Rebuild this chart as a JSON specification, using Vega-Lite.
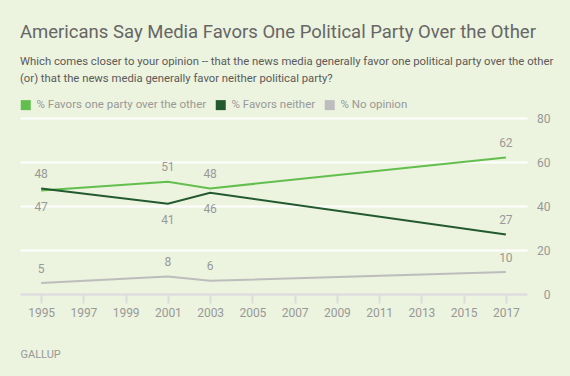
{
  "$schema": "https://vega.github.io/schema/vega-lite/v6.json",
  "width": 507,
  "height": 176,
  "autosize": {"type": "none"},
  "padding": {"left": 20, "top": 118, "right": 43, "bottom": 82},
  "background": "#ECF3DE",
  "config": {
    "view": {"stroke": null},
    "font": "Roboto"
  },
  "title": {
    "text": "Americans Say Media Favors One Political Party Over the Other",
    "subtitle": ["Which comes closer to your opinion -- that the news media generally favor one political party over the other", "(or) that the news media generally favor neither political party?"],
    "anchor": "start",
    "frame": "group",
    "limit": 1000,
    "font": "Roboto",
    "fontSize": 18.5,
    "fontWeight": "normal",
    "color": "#666666",
    "subtitleFont": "Roboto",
    "subtitleFontSize": 11.3,
    "subtitleColor": "#5a5a5a",
    "subtitleLineHeight": 17,
    "subtitlePadding": 14,
    "offset": 15
  },
  "data": {
    "values": [
      {"series": "% Favors one party over the other", "year": 1995, "value": 47},
      {"series": "% Favors one party over the other", "year": 2001, "value": 51},
      {"series": "% Favors one party over the other", "year": 2003, "value": 48},
      {"series": "% Favors one party over the other", "year": 2017, "value": 62},
      {"series": "% Favors neither", "year": 1995, "value": 48},
      {"series": "% Favors neither", "year": 2001, "value": 41},
      {"series": "% Favors neither", "year": 2003, "value": 46},
      {"series": "% Favors neither", "year": 2017, "value": 27},
      {"series": "% No opinion", "year": 1995, "value": 5},
      {"series": "% No opinion", "year": 2001, "value": 8},
      {"series": "% No opinion", "year": 2003, "value": 6},
      {"series": "% No opinion", "year": 2017, "value": 10}
    ]
  },
  "encoding": {
    "x": {
      "field": "year",
      "type": "quantitative",
      "scale": {"domain": [1994, 2018], "nice": false, "zero": false},
      "axis": {
        "values": [1995, 1997, 1999, 2001, 2003, 2005, 2007, 2009, 2011, 2013, 2015, 2017],
        "format": "d",
        "grid": false,
        "domainColor": "#dcdcdc",
        "domainWidth": 2.5,
        "tickColor": "#dcdcdc",
        "tickWidth": 2,
        "tickSize": 9,
        "labelPadding": 4,
        "labelColor": "#999999",
        "labelFontSize": 12,
        "labelFont": "Roboto",
        "title": "GALLUP",
        "titleAnchor": "start",
        "titleAlign": "left",
        "titleFont": "Roboto",
        "titleFontSize": 11,
        "titleFontWeight": "normal",
        "titleColor": "#999999",
        "titlePadding": 30,
        "zindex": 1
      }
    },
    "y": {
      "field": "value",
      "type": "quantitative",
      "scale": {"domain": [0, 80], "nice": false},
      "axis": {
        "orient": "right",
        "values": [0, 20, 40, 60, 80],
        "grid": true,
        "gridColor": "#ffffff",
        "gridWidth": 2,
        "domain": false,
        "ticks": false,
        "labelAlign": "right",
        "labelPadding": 23,
        "labelColor": "#999999",
        "labelFontSize": 12,
        "labelFont": "Roboto",
        "title": null,
        "zindex": 0
      }
    }
  },
  "layer": [
    {
      "mark": {"type": "line", "strokeWidth": 2},
      "encoding": {
        "color": {
          "field": "series",
          "type": "nominal",
          "scale": {
            "domain": ["% Favors one party over the other", "% Favors neither", "% No opinion"],
            "range": ["#62BF4E", "#23592F", "#BDBDBD"]
          },
          "legend": {
            "orient": "none",
            "legendX": 0,
            "legendY": -19,
            "direction": "horizontal",
            "title": null,
            "symbolType": "square",
            "symbolSize": 1,
            "symbolStrokeWidth": 9,
            "labelColor": "#999999",
            "labelFontSize": 11.5,
            "labelFont": "Roboto",
            "labelLimit": 400,
            "labelOffset": 5,
            "columnPadding": -5
          }
        }
      }
    },
    {
      "transform": [
        {"filter": "!((datum.series === '% Favors one party over the other' && datum.year === 1995) || (datum.series === '% Favors neither' && (datum.year === 2001 || datum.year === 2003)))"}
      ],
      "mark": {"type": "text", "dy": -14.5, "baseline": "middle", "fontSize": 12, "color": "#999999", "font": "Roboto"},
      "encoding": {"text": {"field": "value", "type": "quantitative"}}
    },
    {
      "transform": [
        {"filter": "(datum.series === '% Favors one party over the other' && datum.year === 1995) || (datum.series === '% Favors neither' && (datum.year === 2001 || datum.year === 2003))"}
      ],
      "mark": {"type": "text", "dy": 16, "baseline": "middle", "fontSize": 12, "color": "#999999", "font": "Roboto"},
      "encoding": {"text": {"field": "value", "type": "quantitative"}}
    }
  ]
}
